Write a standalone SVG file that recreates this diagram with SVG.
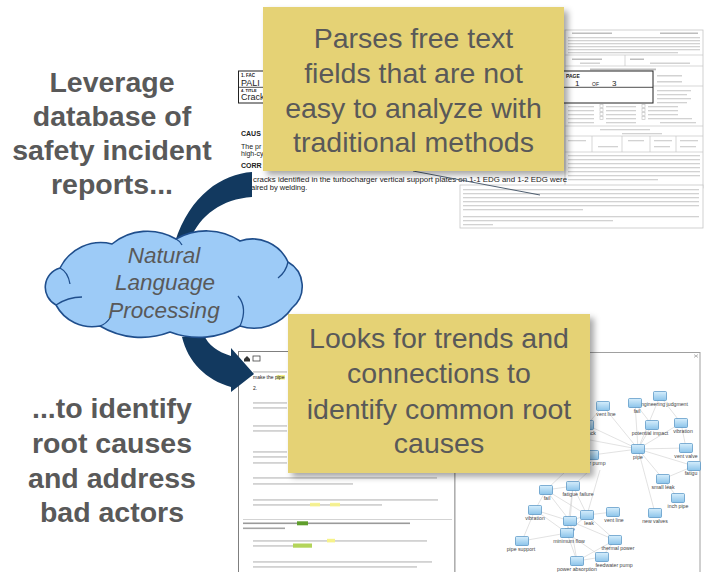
<svg xmlns="http://www.w3.org/2000/svg" xmlns:xlink="http://www.w3.org/1999/xlink" width="705" height="572" viewBox="0 0 705 572">
<style>
.lead{font-family:"Liberation Sans",Arial,sans-serif;font-weight:bold;font-size:28.5px;fill:#595959;text-anchor:middle}
.call{font-family:"Liberation Sans",Arial,sans-serif;font-size:28.5px;fill:#595959;text-anchor:middle}
.cloudtxt{font-family:"Liberation Sans",Arial,sans-serif;font-style:italic;font-size:22.5px;fill:#595959;text-anchor:middle}
.doc{font-family:"Liberation Sans",Arial,sans-serif;fill:#222}
.ln{fill:#d2d2d2}
.lnd{fill:#bdbdbd}
.frm{stroke:#c6c6c6;stroke-width:0.7;fill:none}
.edge{stroke:#d6d6d6;stroke-width:0.7}
.lbl{font-family:"Liberation Sans",Arial,sans-serif;font-size:5.2px;fill:#444;text-anchor:middle}
.arrow{fill:#12395F}
.box{fill:#E5D275}
</style>
<defs>
<filter id="shadow" x="-10%" y="-10%" width="125%" height="130%">
<feDropShadow dx="4" dy="4" stdDeviation="3" flood-color="#000" flood-opacity="0.35"/>
</filter>
<linearGradient id="ig" x1="0" y1="0" x2="0" y2="1">
<stop offset="0" stop-color="#d6eefc"/>
<stop offset="1" stop-color="#8cc4ea"/>
</linearGradient>
<g id="icon"><rect x="-6.5" y="-4.5" width="13" height="9" rx="1" fill="url(#ig)" stroke="#4f8fc2" stroke-width="0.7"/></g>
</defs>
<rect width="705" height="572" fill="#fff"/>

<!-- background: report form (rear page) -->
<g id="bg-report-form">
<rect x="565" y="30" width="138" height="158" fill="#fff" stroke="#c6c6c6" stroke-width="0.8"/>
<rect class="lnd" x="572" y="32.5" width="40" height="1.5"/><rect class="lnd" x="660" y="32.5" width="38" height="1.5"/>
<rect class="ln" x="568" y="37" width="132" height="1.3"/><rect class="ln" x="568" y="40" width="132" height="1.3"/>
<rect class="ln" x="568" y="43" width="132" height="1.3"/><rect class="ln" x="568" y="46" width="132" height="1.3"/>
<rect class="ln" x="568" y="49" width="132" height="1.3"/><rect class="ln" x="568" y="52" width="110" height="1.3"/>
<line class="frm" x1="565" y1="55" x2="703" y2="55"/>
<line class="frm" x1="625" y1="55" x2="625" y2="66"/>
<rect class="lnd" x="572" y="58.5" width="30" height="1.5"/><rect class="lnd" x="630" y="58.5" width="14" height="1.5"/>
<rect class="ln" x="580" y="62.5" width="20" height="1.5"/><rect class="ln" x="650" y="62.5" width="40" height="1.5"/>
<line class="frm" x1="565" y1="66" x2="703" y2="66"/>
<rect class="lnd" x="590" y="68.5" width="66" height="1.8"/>
<rect class="ln" x="657" y="75" width="25" height="1.5"/><rect class="ln" x="657" y="81" width="25" height="1.5"/>
<line class="frm" x1="653" y1="86" x2="703" y2="86"/>
<rect class="ln" x="657" y="90" width="34" height="1.3"/><rect class="ln" x="657" y="94" width="30" height="1.3"/>
<rect class="ln" x="657" y="98" width="34" height="1.3"/><rect class="ln" x="657" y="102" width="30" height="1.3"/>
<g>
<rect class="ln" x="568" y="106" width="26" height="1.3"/><rect x="600" y="104.5" width="3" height="3" class="frm"/><rect class="ln" x="606" y="106" width="30" height="1.3"/><rect x="642" y="104.5" width="3" height="3" class="frm"/><rect class="ln" x="648" y="106" width="30" height="1.3"/>
<rect class="ln" x="568" y="110" width="26" height="1.3"/><rect x="600" y="108.5" width="3" height="3" class="frm"/><rect class="ln" x="606" y="110" width="30" height="1.3"/><rect x="642" y="108.5" width="3" height="3" class="frm"/><rect class="ln" x="648" y="110" width="30" height="1.3"/>
<rect class="ln" x="568" y="114" width="26" height="1.3"/><rect x="600" y="112.5" width="3" height="3" class="frm"/><rect class="ln" x="606" y="114" width="30" height="1.3"/><rect x="642" y="112.5" width="3" height="3" class="frm"/><rect class="ln" x="648" y="114" width="30" height="1.3"/>
<rect class="ln" x="568" y="118" width="26" height="1.3"/><rect x="600" y="116.5" width="3" height="3" class="frm"/><rect class="ln" x="606" y="118" width="30" height="1.3"/><rect x="642" y="116.5" width="3" height="3" class="frm"/><rect class="ln" x="648" y="118" width="44" height="1.3"/>
<rect class="ln" x="568" y="122" width="26" height="1.3"/><rect class="ln" x="606" y="122" width="30" height="1.3"/><rect class="ln" x="660" y="122" width="36" height="1.3"/>
</g>
<line class="frm" x1="565" y1="126" x2="703" y2="126"/>
<rect class="ln" x="600" y="129" width="50" height="1.3"/><rect class="ln" x="622" y="133" width="40" height="1.3"/>
<line class="frm" x1="565" y1="136" x2="703" y2="136"/>
<line class="frm" x1="592" y1="136" x2="592" y2="152"/><line class="frm" x1="622" y1="136" x2="622" y2="152"/>
<line class="frm" x1="650" y1="136" x2="650" y2="152"/><line class="frm" x1="676" y1="136" x2="676" y2="152"/>
<rect class="ln" x="568" y="140" width="18" height="1.3"/><rect class="ln" x="628" y="140" width="16" height="1.3"/><rect class="ln" x="654" y="140" width="18" height="1.3"/><rect class="ln" x="680" y="140" width="18" height="1.3"/>
<rect class="ln" x="598" y="146" width="20" height="1.3"/><rect class="ln" x="654" y="146" width="16" height="1.3"/><rect class="ln" x="680" y="146" width="16" height="1.3"/>
<line class="frm" x1="565" y1="152" x2="703" y2="152"/>
<rect class="ln" x="568" y="155" width="132" height="1.3"/><rect class="ln" x="568" y="159" width="132" height="1.3"/>
<rect class="ln" x="568" y="163" width="132" height="1.3"/><rect class="ln" x="568" y="167" width="132" height="1.3"/>
<rect class="ln" x="568" y="171" width="132" height="1.3"/><rect class="ln" x="568" y="175" width="132" height="1.3"/>
<rect class="ln" x="568" y="179" width="90" height="1.3"/>
<rect x="460" y="185" width="243" height="43" fill="#fff" stroke="#c6c6c6" stroke-width="0.8"/>
<rect class="ln" x="463" y="189" width="236" height="1.3"/><rect class="ln" x="463" y="193" width="236" height="1.3"/>
<rect class="ln" x="463" y="197" width="236" height="1.3"/><rect class="ln" x="463" y="201" width="236" height="1.3"/>
<rect class="ln" x="463" y="205" width="236" height="1.3"/><rect class="ln" x="463" y="209" width="120" height="1.3"/>
<rect class="ln" x="463" y="216" width="236" height="1.3"/><rect class="ln" x="463" y="220" width="150" height="1.3"/>
<rect class="ln" x="463" y="224" width="30" height="1.3"/>
</g>

<!-- background: report front page -->
<g id="bg-report-front">
<rect x="238.5" y="71" width="414.5" height="32" fill="#fff" stroke="#222" stroke-width="1"/>
<line x1="238.5" y1="87.3" x2="653" y2="87.3" stroke="#222" stroke-width="0.8"/>
<text class="doc" x="241" y="77" font-size="4.5" font-weight="bold">1. FAC</text>
<text class="doc" x="241" y="86" font-size="9">PALI</text>
<text class="doc" x="241" y="91.5" font-size="4" font-weight="bold">4. TITLE</text>
<text class="doc" x="241" y="100" font-size="9">Crack</text>
<text class="doc" x="566" y="78" font-size="5" font-weight="bold">PAGE</text>
<text class="doc" x="575" y="85.5" font-size="8">1</text>
<text class="doc" x="592" y="85.5" font-size="5">OF</text>
<text class="doc" x="612" y="85.5" font-size="8">3</text>
<text class="doc" x="241" y="136" font-size="7" font-weight="bold">CAUS</text>
<text class="doc" x="241" y="148.5" font-size="7">The pr</text>
<text class="doc" x="241" y="155.5" font-size="7">high-cy</text>
<text class="doc" x="241" y="168" font-size="7" font-weight="bold">CORR</text>
<text class="doc" x="253" y="182" font-size="7.5" textLength="314" lengthAdjust="spacingAndGlyphs">cracks identified in the turbocharger vertical support plates on 1-1 EDG and 1-2 EDG were</text>
<text class="doc" x="251" y="190" font-size="7.5">aired by welding.</text>
</g>

<!-- background: analysis tool screenshot -->
<g id="bg-analysis-screenshot">
<rect x="238.5" y="351.5" width="216.5" height="230" fill="#fff" stroke="#7f7f7f" stroke-width="1"/>
<rect x="455" y="352.5" width="245" height="230" fill="#fff" stroke="#a0a0a0" stroke-width="1"/>
<path d="M694 354.5 l4 3 M698 354.5 l-4 3" stroke="#999" stroke-width="0.7"/>
<path d="M244 359 l3 -3 l3 3 v2.5 h-6 z" fill="#333"/>
<rect x="253" y="356" width="7" height="5" fill="#fff" stroke="#444" stroke-width="0.8"/>
<rect class="ln" x="253" y="371" width="34" height="1.8"/>
<rect x="276.5" y="375" width="8.5" height="4.6" fill="#f6f28a"/>
<text class="doc" x="253" y="379" font-size="5">make the pipe</text>
<text class="doc" x="253" y="390" font-size="5">2.</text>
<rect class="ln" x="253" y="402" width="34" height="1.8"/><rect class="ln" x="253" y="407" width="34" height="1.8"/>
<rect class="ln" x="253" y="425" width="34" height="1.8"/><rect class="ln" x="253" y="430" width="34" height="1.8"/>
<rect class="ln" x="253" y="451" width="34" height="1.8"/><rect class="ln" x="253" y="456" width="34" height="1.8"/>
<rect class="ln" x="253" y="462" width="34" height="1.8"/>
<rect class="ln" x="253" y="477" width="184" height="1.8"/><rect class="ln" x="253" y="483" width="100" height="1.8"/>
<rect class="ln" x="253" y="499" width="185" height="1.8"/><rect class="ln" x="253" y="504" width="129" height="1.8"/>
<rect x="310" y="502.8" width="10" height="3.6" fill="#f6f28a" opacity="0.9"/>
<rect x="330" y="502.8" width="10" height="3.6" fill="#f6f28a" opacity="0.9"/>
<line x1="243" y1="519.5" x2="452" y2="519.5" stroke="#c8c8c8" stroke-width="0.8"/>
<rect x="243" y="522.5" width="167" height="1.6" fill="#9a9a9a"/>
<rect x="297" y="521.3" width="11" height="4" fill="#5f9e2c"/>
<rect x="243" y="527.5" width="42" height="1.6" fill="#a5a5a5"/>
<rect class="ln" x="253" y="540" width="174" height="1.8"/><rect class="ln" x="253" y="545" width="59" height="1.8"/>
<rect x="327" y="538.8" width="8" height="3.6" fill="#f6f28a"/>
<rect x="293" y="543.5" width="19" height="4.2" fill="#b3d45a"/>
<rect class="ln" x="253" y="561" width="179" height="1.8"/><rect class="ln" x="253" y="566" width="164" height="1.8"/>

<g id="graph-edges">
<line class="edge" x1="638" y1="449" x2="635" y2="403"/>
<line class="edge" x1="638" y1="449" x2="660" y2="396"/>
<line class="edge" x1="638" y1="449" x2="652" y2="425"/>
<line class="edge" x1="638" y1="449" x2="681" y2="423"/>
<line class="edge" x1="638" y1="449" x2="686" y2="448"/>
<line class="edge" x1="638" y1="449" x2="694" y2="466"/>
<line class="edge" x1="638" y1="449" x2="663" y2="479"/>
<line class="edge" x1="638" y1="449" x2="655" y2="513"/>
<line class="edge" x1="638" y1="449" x2="603" y2="406"/>
<line class="edge" x1="638" y1="449" x2="587" y2="425"/>
<line class="edge" x1="638" y1="449" x2="592" y2="455"/>
<line class="edge" x1="638" y1="449" x2="590" y2="440"/>
<line class="edge" x1="635" y1="403" x2="652" y2="425"/>
<line class="edge" x1="660" y1="396" x2="681" y2="423"/>
<line class="edge" x1="681" y1="423" x2="686" y2="448"/>
<line class="edge" x1="663" y1="479" x2="678" y2="498"/>
<line class="edge" x1="663" y1="479" x2="694" y2="466"/>
<line class="edge" x1="603" y1="406" x2="587" y2="425"/>
<line class="edge" x1="546" y1="490" x2="573" y2="486"/>
<line class="edge" x1="546" y1="490" x2="535" y2="510"/>
<line class="edge" x1="546" y1="490" x2="570" y2="521"/>
<line class="edge" x1="546" y1="490" x2="587" y2="515"/>
<line class="edge" x1="573" y1="486" x2="587" y2="515"/>
<line class="edge" x1="573" y1="486" x2="570" y2="521"/>
<line class="edge" x1="573" y1="486" x2="567" y2="533"/>
<line class="edge" x1="573" y1="486" x2="590" y2="470"/>
<line class="edge" x1="535" y1="510" x2="570" y2="521"/>
<line class="edge" x1="535" y1="510" x2="567" y2="533"/>
<line class="edge" x1="535" y1="510" x2="522" y2="541"/>
<line class="edge" x1="587" y1="515" x2="613" y2="512"/>
<line class="edge" x1="587" y1="515" x2="570" y2="521"/>
<line class="edge" x1="587" y1="515" x2="567" y2="533"/>
<line class="edge" x1="587" y1="515" x2="615" y2="540"/>
<line class="edge" x1="587" y1="515" x2="600" y2="470"/>
<line class="edge" x1="570" y1="521" x2="615" y2="540"/>
<line class="edge" x1="570" y1="521" x2="577" y2="561"/>
<line class="edge" x1="567" y1="533" x2="522" y2="541"/>
<line class="edge" x1="567" y1="533" x2="577" y2="561"/>
<line class="edge" x1="567" y1="533" x2="602" y2="557"/>
<line class="edge" x1="615" y1="540" x2="602" y2="557"/>
<line class="edge" x1="615" y1="540" x2="577" y2="561"/>
<line class="edge" x1="577" y1="561" x2="602" y2="557"/>
<line class="edge" x1="546" y1="490" x2="565" y2="472"/>
</g>
<g id="graph-nodes">
<use href="#icon" x="660" y="396"/><text class="lbl" x="663" y="405.5">engineering judgment</text>
<use href="#icon" x="635" y="403"/><text class="lbl" x="637" y="412.5">fail</text>
<use href="#icon" x="603" y="406"/><text class="lbl" x="606" y="415.5">vent line</text>
<use href="#icon" x="587" y="425"/><text class="lbl" x="591" y="434.5" text-anchor="start">rack</text>
<use href="#icon" x="652" y="425"/><text class="lbl" x="650" y="434.5">potential impact</text>
<use href="#icon" x="681" y="423"/><text class="lbl" x="683" y="432.5">vibration</text>
<use href="#icon" x="638" y="449"/><text class="lbl" x="638" y="458.5">pipe</text>
<use href="#icon" x="686" y="448"/><text class="lbl" x="686" y="458">vent valve</text>
<use href="#icon" x="694" y="466"/><text class="lbl" x="691" y="474.5" text-anchor="start">fatigu</text>
<use href="#icon" x="592" y="455"/><text class="lbl" x="596" y="465" text-anchor="start">er pump</text>
<use href="#icon" x="663" y="479"/><text class="lbl" x="663" y="488.5">small leak</text>
<use href="#icon" x="678" y="498"/><text class="lbl" x="678" y="507.5">inch pipe</text>
<use href="#icon" x="655" y="513"/><text class="lbl" x="655" y="522.5">new valves</text>
<use href="#icon" x="546" y="490"/><text class="lbl" x="547" y="499.5">fail</text>
<use href="#icon" x="573" y="486"/><text class="lbl" x="578" y="495.5">fatigue failure</text>
<use href="#icon" x="535" y="510"/><text class="lbl" x="535" y="520">vibration</text>
<use href="#icon" x="587" y="515"/><text class="lbl" x="589" y="524.5">leak</text>
<use href="#icon" x="613" y="512"/><text class="lbl" x="614" y="521.5">vent line</text>
<use href="#icon" x="570" y="521"/><text class="lbl" x="570" y="530.5">pipe</text>
<use href="#icon" x="567" y="533"/><text class="lbl" x="569" y="542.5">minimum flow</text>
<use href="#icon" x="522" y="541"/><text class="lbl" x="521" y="550.5">pipe support</text>
<use href="#icon" x="615" y="540"/><text class="lbl" x="618" y="550">thermal power</text>
<use href="#icon" x="577" y="561"/><text class="lbl" x="577" y="570.5">power absorption</text>
<use href="#icon" x="602" y="557"/><text class="lbl" x="614" y="566.5">feedwater pump</text>
</g>
</g>

<!-- connectors -->
<g id="connectors">
<path class="arrow" d="M252 172 C222 174 190 195 175 242 L190 240 C200 215 222 199 252 197 Z"/>
<path class="arrow" d="M182 337 C188 362 206 380 231 387 L231 392 L254 374 L231 348 L231 356 C218 352 208 345 204 335 Z"/>
<line x1="413" y1="171" x2="540" y2="195" stroke="#4f5f70" stroke-width="1"/>
</g>

<!-- NLP cloud -->
<g id="cloud-nlp">
<path d="M60 268 A45.6 45.6 0 0 1 112 244 A56 56 0 0 1 176 239 A61 61 0 0 1 240 241 A39 39 0 0 1 288 262 A28 28 0 0 1 292 308 A46 46 0 0 1 240 326 A80 80 0 0 1 170 332 A80 80 0 0 1 100 326 A41 41 0 0 1 56 305 A20 20 0 0 1 60 268 Z" fill="#9DCBF7" stroke="#1F4E8C" stroke-width="1.6"/>
<path d="M60 268 q8 4 10 16" fill="none" stroke="#1F4E8C" stroke-width="1.3"/>
<path d="M56 305 q12 -8 26 -8" fill="none" stroke="#1F4E8C" stroke-width="1.3"/>
<path d="M100 326 q6 -2 10 -8" fill="none" stroke="#1F4E8C" stroke-width="1.3"/>
<path d="M240 326 q8 -18 -2 -30" fill="none" stroke="#1F4E8C" stroke-width="1.3"/>
<path d="M288 262 q-2 10 -10 16" fill="none" stroke="#1F4E8C" stroke-width="1.3"/>
<path d="M176 239 q4 2 6 6" fill="none" stroke="#1F4E8C" stroke-width="1.3"/>
<text class="cloudtxt" x="164" y="263">Natural</text>
<text class="cloudtxt" x="165" y="290">Language</text>
<text class="cloudtxt" x="164" y="318">Processing</text>
</g>

<!-- callouts -->
<g id="callout-parses">
<rect class="box" x="263" y="7" width="301" height="164" filter="url(#shadow)"/>
<text class="call" x="413.5" y="48">Parses free text</text>
<text class="call" x="413.5" y="83">fields that are not</text>
<text class="call" x="413.5" y="118">easy to analyze with</text>
<text class="call" x="413.5" y="152">traditional methods</text>
</g>
<g id="callout-trends">
<rect class="box" x="288" y="314" width="302" height="159" filter="url(#shadow)"/>
<text class="call" x="439" y="348">Looks for trends and</text>
<text class="call" x="439" y="383">connections to</text>
<text class="call" x="439" y="419">identify common root</text>
<text class="call" x="439" y="453">causes</text>
</g>

<!-- left narrative -->
<g id="lead-top">
<text class="lead" x="112" y="92">Leverage</text>
<text class="lead" x="112" y="126">database of</text>
<text class="lead" x="112" y="160">safety incident</text>
<text class="lead" x="112" y="194">reports...</text>
</g>
<g id="lead-bottom">
<text class="lead" x="112" y="418">...to identify</text>
<text class="lead" x="112" y="453">root causes</text>
<text class="lead" x="112" y="488">and address</text>
<text class="lead" x="112" y="522">bad actors</text>
</g>
</svg>
